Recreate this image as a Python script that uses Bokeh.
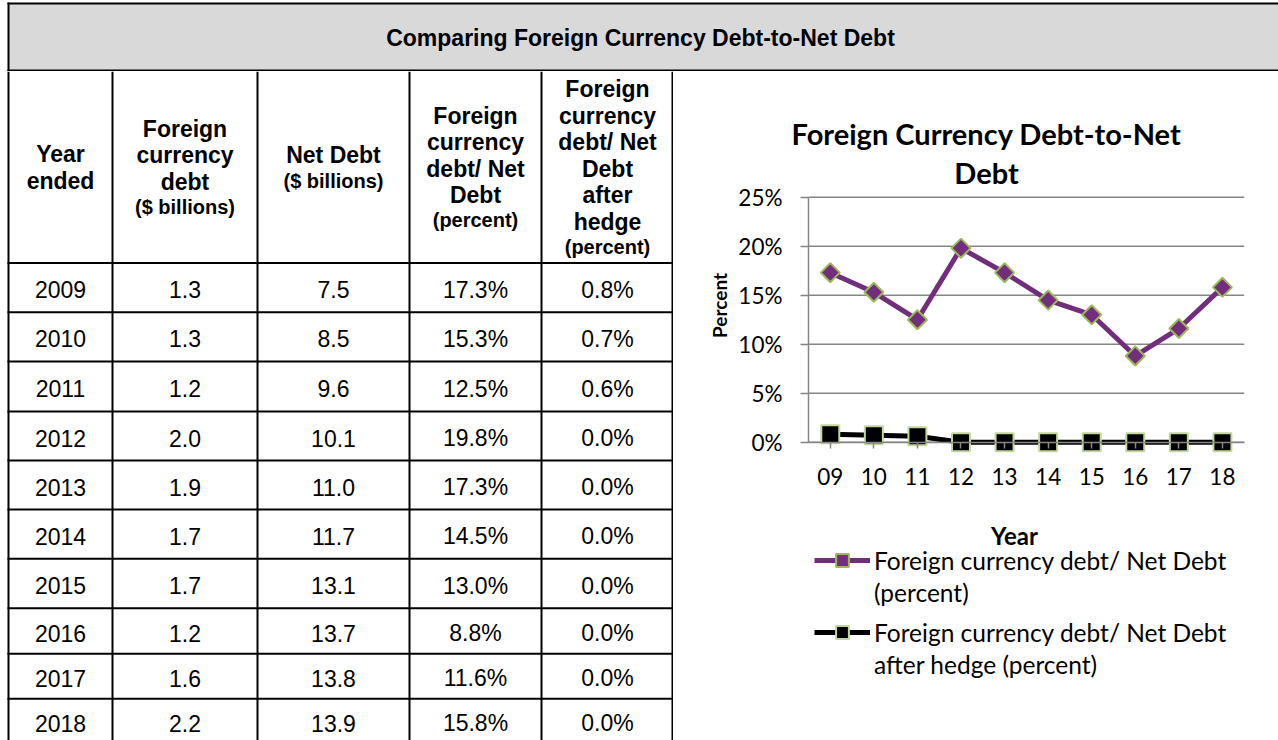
import math
from bokeh.plotting import figure
from bokeh.layouts import column, row
from bokeh.models import (ColumnDataSource, Range1d, Legend, LegendItem,
                          Label, PrintfTickFormatter, FixedTicker)
from bokeh.core.properties import value
from bokeh.embed import file_html
from bokeh.resources import INLINE

# ---------------- data ----------------
years = ["2009", "2010", "2011", "2012", "2013", "2014", "2015", "2016", "2017", "2018"]
year_ticks = ["09", "10", "11", "12", "13", "14", "15", "16", "17", "18"]
fc_debt = [1.3, 1.3, 1.2, 2.0, 1.9, 1.7, 1.7, 1.2, 1.6, 2.2]
net_debt = [7.5, 8.5, 9.6, 10.1, 11.0, 11.7, 13.1, 13.7, 13.8, 13.9]
ratio_pct = [17.3, 15.3, 12.5, 19.8, 17.3, 14.5, 13.0, 8.8, 11.6, 15.8]
ratio_hedged_pct = [0.8, 0.7, 0.6, 0.0, 0.0, 0.0, 0.0, 0.0, 0.0, 0.0]
y_ticks = [0, 5, 10, 15, 20, 25]

table_title = "Comparing Foreign Currency Debt-to-Net Debt"
header_bold = [["Year", "ended"],
               ["Foreign", "currency", "debt"],
               ["Net Debt"],
               ["Foreign", "currency", "debt/ Net", "Debt"],
               ["Foreign", "currency", "debt/ Net", "Debt", "after", "hedge"]]
header_small = [[], ["($ billions)"], ["($ billions)"], ["(percent)"], ["(percent)"]]
chart_title = ["Foreign Currency Debt-to-Net", "Debt"]
x_title = "Year"
y_title = "Percent"
legend1 = ["Foreign currency debt/ Net Debt", "(percent)"]
legend2 = ["Foreign currency debt/ Net Debt", "after hedge (percent)"]

# ---------------- layout constants (page pixels) ----------------
PAGE_W, PAGE_H = 1278, 740
HDR_B = 71
COL_EDGES = [8, 112, 257, 409, 541, 673]
ROW_EDGES = [262.5, 311.7, 361, 411, 460, 509, 558.3, 607.7, 653.3, 698.3, 743]
ARIAL = "Liberation Sans"
CAL = "Lato"
PURPLE = "#722D7C"
GRID = "#868686"


def bare(p):
    p.grid.visible = False
    p.outline_line_color = None
    return p


# ---------------- header band ----------------
hdr = figure(width=PAGE_W, height=HDR_B,
             x_range=Range1d(0, PAGE_W), y_range=Range1d(HDR_B, 0),
             x_axis_location=None, y_axis_location=None, frame_align=False,
             output_backend="svg", toolbar_location=None, min_border=0)
bare(hdr)
hdr.quad(left=[8], right=[PAGE_W + 5], top=[3], bottom=[70], fill_color="#D9D9D9", line_color=None)
hdr.segment(x0=[7, 7, 8], y0=[3, 70, 2], x1=[PAGE_W, PAGE_W, 8], y1=[3, 70, HDR_B],
            line_color="black", line_width=2)
hdr.text(x=[640], y=[37], text=[table_title],
         text_font=value(ARIAL), text_font_size="23px", text_font_style="bold",
         text_align="center", text_baseline="middle", text_color="black")

# ---------------- table ----------------
tbl = figure(width=COL_EDGES[-1], height=PAGE_H - HDR_B,
             x_range=Range1d(0, COL_EDGES[-1]), y_range=Range1d(PAGE_H, HDR_B),
             x_axis_location=None, y_axis_location=None, frame_align=False,
             output_backend="svg", toolbar_location=None, min_border=0)
bare(tbl)
vx = COL_EDGES[:-1] + [672]
tbl.segment(x0=vx, y0=[HDR_B] * len(vx), x1=vx, y1=[PAGE_H + 20] * len(vx),
            line_color="black", line_width=2)
hy = ROW_EDGES[:-1]
tbl.segment(x0=[7] * len(hy), y0=hy, x1=[COL_EDGES[-1]] * len(hy), y1=hy,
            line_color="black", line_width=2)

col_centers = [(COL_EDGES[i] + COL_EDGES[i + 1]) / 2 for i in range(5)]

# header cells
hc = (HDR_B + ROW_EDGES[0]) / 2
BOLD_LH, SMALL_LH = 26.5, 24
bx, by, bt, sx, sy, st = [], [], [], [], [], []
for j in range(5):
    lines = header_bold[j] + header_small[j]
    heights = [BOLD_LH] * len(header_bold[j]) + [SMALL_LH] * len(header_small[j])
    y = hc - sum(heights) / 2
    for k, t in enumerate(lines):
        yc = y + heights[k] / 2
        if k < len(header_bold[j]):
            bx.append(col_centers[j]); by.append(yc); bt.append(t)
        else:
            sx.append(col_centers[j]); sy.append(yc); st.append(t)
        y += heights[k]
tbl.text(x=bx, y=by, text=bt, text_font=value(ARIAL), text_font_size="23px",
         text_font_style="bold", text_align="center", text_baseline="middle", text_color="black")
tbl.text(x=sx, y=sy, text=st, text_font=value(ARIAL), text_font_size="20px",
         text_font_style="bold", text_align="center", text_baseline="middle", text_color="black")

# body cells
cx, cy, ct = [], [], []
for i in range(len(years)):
    yc = (ROW_EDGES[i] + ROW_EDGES[i + 1]) / 2 + 2
    vals = [years[i], f"{fc_debt[i]:.1f}", f"{net_debt[i]:.1f}",
            f"{ratio_pct[i]:.1f}%", f"{ratio_hedged_pct[i]:.1f}%"]
    for j, v in enumerate(vals):
        cx.append(col_centers[j]); cy.append(yc); ct.append(v)
tbl.text(x=cx, y=cy, text=ct, text_font=value(ARIAL), text_font_size="23px",
         text_align="center", text_baseline="middle", text_color="black")

# ---------------- chart ----------------
CH_L = COL_EDGES[-1]
X0PX, CATW = 808.0, 43.57      # plot-area left edge, category width (px)
Y0PX, PPY = 441.7, 9.8         # 0% line (px), px per percent
ncat = len(year_ticks)


def xd(px):   # page px -> x data (category index units)
    return (px - X0PX) / CATW - 0.5


def yd(py):   # page px -> y data (percent)
    return (Y0PX - py) / PPY


ch = figure(width=PAGE_W - CH_L, height=PAGE_H - HDR_B,
            x_range=Range1d(xd(CH_L), xd(PAGE_W)), y_range=Range1d(yd(PAGE_H), yd(HDR_B)),
            min_border=0, frame_align=False, output_backend="svg", toolbar_location=None)
ch.outline_line_color = None
ch.grid.visible = False

xs = list(range(ncat))
ch.xaxis.ticker = FixedTicker(ticks=xs)
ch.xaxis.major_label_overrides = {i: t for i, t in enumerate(year_ticks)}
ch.xaxis.fixed_location = 0
ch.xaxis.bounds = (-0.5, ncat - 0.5)
ch.yaxis.ticker = FixedTicker(ticks=y_ticks)
ch.yaxis.formatter = PrintfTickFormatter(format="%d%%")
ch.yaxis.fixed_location = -0.5
ch.yaxis.bounds = (y_ticks[0], y_ticks[-1])
for ax in (ch.xaxis[0], ch.yaxis[0]):
    ax.axis_line_color = GRID
    ax.axis_line_width = 1.5
    ax.major_tick_line_color = GRID
    ax.major_tick_line_width = 1.5
    ax.minor_tick_line_color = None
    ax.major_tick_in = 0
    ax.major_label_text_font = CAL
    ax.major_label_text_font_size = "22.5px"
    ax.major_label_text_color = "black"
ch.yaxis.major_tick_out = 8
ch.yaxis.major_label_standoff = 18
ch.xaxis.major_tick_out = 6
ch.xaxis.major_label_standoff = 20

# horizontal gridlines at the y ticks, spanning the category area
ch.segment(x0=[-0.5] * len(y_ticks), y0=y_ticks, x1=[ncat - 0.5] * len(y_ticks), y1=y_ticks,
           line_color=GRID, line_width=1.5)

src = ColumnDataSource(dict(x=xs, r=ratio_pct, h=ratio_hedged_pct))
l1 = ch.line("x", "r", source=src, line_color=PURPLE, line_width=5)
m1 = ch.scatter("x", "r", source=src, marker="square", angle=math.pi / 4, size=13.5,
                fill_color=PURPLE, line_color="#9BBB59", line_width=2)
l2 = ch.line("x", "h", source=src, line_color="black", line_width=5)
m2 = ch.scatter("x", "h", source=src, marker="square", size=18,
                fill_color="black", line_color="#C3D69B", line_width=2)

for k, t in enumerate(chart_title):
    ch.add_layout(Label(x=xd(986), y=yd(133 + 39 * k), text=t,
                        text_font=CAL, text_font_size="29px", text_font_style="bold",
                        text_align="center", text_baseline="middle", text_color="black"))
ch.add_layout(Label(x=xd(1014), y=yd(535), text=x_title,
                    text_font=CAL, text_font_size="24px", text_font_style="bold",
                    text_align="center", text_baseline="middle", text_color="black"))
ch.add_layout(Label(x=xd(719), y=yd(305), text=y_title, angle=math.pi / 2,
                    text_font=CAL, text_font_size="19px", text_font_style="bold",
                    text_align="center", text_baseline="middle", text_color="black"))


def make_legend(labels, renderers, bottom_px):
    lg = Legend(items=[LegendItem(label=labels[0], renderers=renderers),
                       LegendItem(label=labels[1], renderers=[])],
                location=(814 - CH_L, PAGE_H - bottom_px), orientation="vertical",
                padding=0, margin=0, spacing=0, label_standoff=4,
                glyph_width=56, glyph_height=32, label_height=32,
                label_text_font=CAL, label_text_font_size="24.5px",
                label_text_baseline="middle", label_text_color="black",
                border_line_color=None, background_fill_alpha=0)
    ch.add_layout(lg, "center")


make_legend(legend1, [l1, m1], 608)
make_legend(legend2, [l2, m2], 680)

layout = column(hdr, row(tbl, ch))
open("out.html", "w").write(file_html(layout, INLINE))
